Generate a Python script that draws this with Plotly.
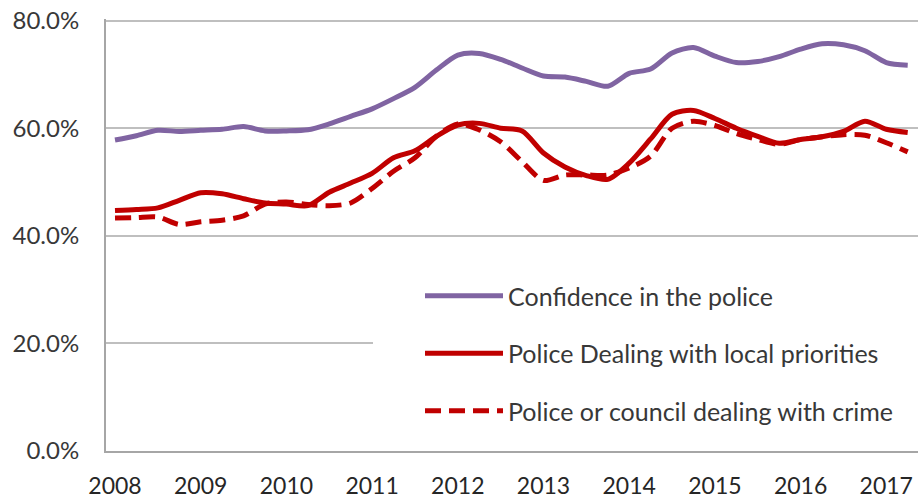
import plotly.graph_objects as go

# Quarterly positions (decimal years), 2008 Q1 .. 2017 Q2
quarters = [2008 + 0.25 * i for i in range(38)]

confidence = [57.8, 58.6, 59.6, 59.4, 59.6, 59.8, 60.3, 59.5, 59.5, 59.7,
              60.8, 62.2, 63.6, 65.5, 67.6, 70.8, 73.6, 73.9, 72.8, 71.2,
              69.7, 69.5, 68.7, 67.8, 70.2, 71.0, 74.0, 75.0, 73.4, 72.2,
              72.4, 73.3, 74.7, 75.7, 75.5, 74.4, 72.2, 71.7]

local_priorities = [44.7, 44.9, 45.2, 46.6, 48.0, 47.8, 46.9, 46.1, 45.9, 45.6,
                    48.1, 49.8, 51.6, 54.5, 55.8, 58.5, 60.6, 60.9, 60.0, 59.5,
                    55.4, 52.8, 51.2, 50.5, 53.5, 58.0, 62.6, 63.3, 61.8, 60.0,
                    58.5, 57.2, 57.9, 58.4, 59.4, 61.3, 59.8, 59.2]

dealing_crime = [43.3, 43.4, 43.5, 42.1, 42.6, 42.9, 43.7, 45.9, 46.3, 45.8,
                 45.6, 46.1, 48.8, 52.0, 54.5, 58.5, 60.8, 59.7, 57.5, 53.8,
                 50.3, 51.3, 51.3, 51.3, 52.6, 54.8, 60.0, 61.3, 60.5, 59.0,
                 57.9, 57.0, 57.9, 58.4, 58.8, 58.7, 57.3, 55.6]

series_names = ["Confidence in the police",
                "Police Dealing with local priorities",
                "Police or council dealing with crime"]

year_ticks = list(range(2008, 2018))
year_labels = [str(y) for y in year_ticks]
pct_ticks = [0, 20, 40, 60, 80]
pct_labels = ["0.0%", "20.0%", "40.0%", "60.0%", "80.0%"]

PURPLE = "#8064a2"
RED = "#c00000"
FONT = "Lato"
TXT = "#383838"

fig = go.Figure()
fig.add_trace(go.Scatter(x=quarters, y=confidence, name=series_names[0], mode="lines",
                         line=dict(color=PURPLE, width=5, shape="spline", smoothing=0.8),
                         legendgroup="a"))
fig.add_trace(go.Scatter(x=quarters, y=local_priorities, name=series_names[1], mode="lines",
                         line=dict(color=RED, width=5, shape="spline", smoothing=0.8),
                         legendgroup="b"))
fig.add_trace(go.Scatter(x=quarters, y=dealing_crime, name=series_names[2], mode="lines",
                         line=dict(color=RED, width=5, dash="16px,8px", shape="spline", smoothing=0.8),
                         legendgroup="c"))

# figure fills the whole 924x500 window (page margin removed below)
W, H = 924, 500
ml, mr, mt, mb = 106, 6, 19, 49
pw = W - ml - mr
ph = H - mt - mb

def px_x(p):
    return (p - ml) / pw

def px_y(p):
    return 1 - (p - mt) / ph

# white box behind the legend (hides part of the 20% gridline, as in the original)
fig.add_shape(type="rect", xref="paper", yref="paper",
              x0=px_x(373), x1=px_x(922), y0=px_y(440), y1=px_y(252),
              fillcolor="white", line=dict(width=0), layer="above")

fig.update_layout(
    width=W, height=H,
    margin=dict(l=ml, r=mr, t=mt, b=mb, autoexpand=False),
    plot_bgcolor="white", paper_bgcolor="white",
    font=dict(family=FONT, color=TXT, size=24),
    showlegend=True,
    legend=dict(x=px_x(420), y=px_y(273), xanchor="left", yanchor="top",
                bgcolor="rgba(255,255,255,0)", itemwidth=78, tracegroupgap=22,
                font=dict(family=FONT, size=25, color=TXT)),
    xaxis=dict(range=[2007.895, 2017.37], tickvals=year_ticks, ticktext=year_labels,
               automargin=False,
               showgrid=False, zeroline=False, showline=True, linecolor="#a6a6a6", linewidth=2,
               ticks="outside", ticklen=13, tickcolor="rgba(0,0,0,0)",
               tickfont=dict(size=23, family=FONT, color="#262626")),
    yaxis=dict(range=[0, 80.3], tickvals=pct_ticks, ticktext=pct_labels,
               automargin=False, ticklabeloverflow="allow",
               showgrid=True, gridcolor="#bfbfbf", gridwidth=1.5, zeroline=False,
               showline=True, linecolor="#a6a6a6", linewidth=2,
               ticks="outside", ticklen=20, tickcolor="rgba(0,0,0,0)",
               tickfont=dict(size=24, family=FONT, color=TXT)),
)

fig.write_html("out.html",
               config={"displayModeBar": False},
               post_script="document.body.style.margin='0';document.body.style.overflow='hidden';")
